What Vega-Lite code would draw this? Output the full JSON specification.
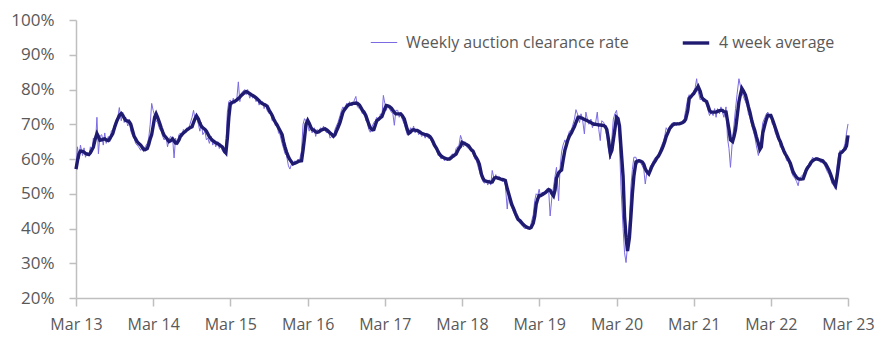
{
"$schema": "https://vega.github.io/schema/vega-lite/v6.json",
"width": 772, "height": 278,
"autosize": {"type": "none"},
"padding": {"left": 76, "top": 20, "right": 35, "bottom": 58},
"background": "white",
"config": {"view": {"stroke": null}, "font": "Open Sans"},
"data": {"values": [
{"d":"2013-03-01","w":57.5,"a":57.1},{"d":"2013-03-08","w":63.5,"a":59.5},{"d":"2013-03-15","w":60.0,"a":61.5},{"d":"2013-03-22","w":64.0,"a":62.3},
{"d":"2013-04-01","w":61.0,"a":62.2},{"d":"2013-04-08","w":63.2,"a":62.0},{"d":"2013-04-15","w":60.5,"a":61.6},{"d":"2013-04-22","w":62.0,"a":61.4},
{"d":"2013-05-01","w":60.8,"a":61.3},{"d":"2013-05-08","w":63.5,"a":61.8},{"d":"2013-05-15","w":62.0,"a":62.6},{"d":"2013-05-22","w":66.0,"a":63.4},
{"d":"2013-06-01","w":64.5,"a":66.0},{"d":"2013-06-08","w":72.0,"a":67.3},{"d":"2013-06-15","w":61.5,"a":66.5},{"d":"2013-06-22","w":66.5,"a":65.4},
{"d":"2013-07-01","w":67.0,"a":65.5},{"d":"2013-07-08","w":64.0,"a":65.7},{"d":"2013-07-15","w":67.5,"a":65.8},{"d":"2013-07-22","w":64.5,"a":65.5},
{"d":"2013-08-01","w":66.5,"a":65.3},{"d":"2013-08-08","w":65.0,"a":65.8},{"d":"2013-08-15","w":68.0,"a":66.6},{"d":"2013-08-22","w":68.5,"a":67.3},
{"d":"2013-09-01","w":70.0,"a":69.4},{"d":"2013-09-08","w":71.5,"a":70.6},{"d":"2013-09-15","w":72.0,"a":71.6},{"d":"2013-09-22","w":74.8,"a":72.5},
{"d":"2013-10-01","w":71.0,"a":73.1},{"d":"2013-10-08","w":73.5,"a":72.6},{"d":"2013-10-15","w":70.5,"a":71.8},{"d":"2013-10-22","w":72.0,"a":71.1},
{"d":"2013-11-01","w":69.5,"a":70.9},{"d":"2013-11-08","w":71.5,"a":70.7},{"d":"2013-11-15","w":68.0,"a":70.0},{"d":"2013-11-22","w":67.0,"a":68.5},
{"d":"2013-12-01","w":66.0,"a":66.5},{"d":"2013-12-08","w":64.5,"a":65.8},{"d":"2013-12-15","w":64.0,"a":65.0},{"d":"2013-12-22","w":63.5,"a":64.5},
{"d":"2014-01-01","w":62.5,"a":64.0},{"d":"2014-01-08","w":63.5,"a":63.4},{"d":"2014-01-15","w":62.0,"a":62.8},{"d":"2014-01-22","w":63.5,"a":62.7},
{"d":"2014-02-01","w":64.5,"a":63.0},{"d":"2014-02-08","w":66.0,"a":64.2},{"d":"2014-02-15","w":70.0,"a":65.8},{"d":"2014-02-22","w":76.0,"a":67.0},
{"d":"2014-03-01","w":74.0,"a":69.5},{"d":"2014-03-08","w":72.5,"a":72.0},{"d":"2014-03-15","w":71.0,"a":73.0},{"d":"2014-03-22","w":70.5,"a":72.0},
{"d":"2014-04-01","w":68.5,"a":70.3},{"d":"2014-04-08","w":68.0,"a":69.0},{"d":"2014-04-15","w":66.5,"a":67.8},{"d":"2014-04-22","w":65.5,"a":66.8},
{"d":"2014-05-01","w":66.5,"a":66.2},{"d":"2014-05-08","w":63.5,"a":65.6},{"d":"2014-05-15","w":65.5,"a":65.0},{"d":"2014-05-22","w":66.5,"a":65.2},
{"d":"2014-06-01","w":66.0,"a":65.8},{"d":"2014-06-08","w":60.3,"a":65.2},{"d":"2014-06-15","w":66.0,"a":64.6},{"d":"2014-06-22","w":64.0,"a":64.6},
{"d":"2014-07-01","w":67.0,"a":65.5},{"d":"2014-07-08","w":67.5,"a":66.5},{"d":"2014-07-15","w":66.5,"a":67.0},{"d":"2014-07-22","w":68.5,"a":67.5},
{"d":"2014-08-01","w":67.5,"a":68.0},{"d":"2014-08-08","w":69.0,"a":68.4},{"d":"2014-08-15","w":68.5,"a":68.7},{"d":"2014-08-22","w":70.0,"a":69.0},
{"d":"2014-09-01","w":72.0,"a":69.3},{"d":"2014-09-08","w":74.0,"a":70.5},{"d":"2014-09-15","w":71.5,"a":71.6},{"d":"2014-09-22","w":72.0,"a":72.4},
{"d":"2014-10-01","w":70.0,"a":71.5},{"d":"2014-10-08","w":68.0,"a":70.3},{"d":"2014-10-15","w":70.5,"a":69.4},{"d":"2014-10-22","w":67.0,"a":69.0},
{"d":"2014-11-01","w":68.0,"a":68.5},{"d":"2014-11-08","w":65.5,"a":68.0},{"d":"2014-11-15","w":66.0,"a":67.2},{"d":"2014-11-22","w":64.5,"a":66.4},
{"d":"2014-12-01","w":66.5,"a":65.7},{"d":"2014-12-08","w":64.0,"a":65.3},{"d":"2014-12-15","w":65.5,"a":65.0},{"d":"2014-12-22","w":63.5,"a":64.7},
{"d":"2015-01-01","w":65.0,"a":64.4},{"d":"2015-01-08","w":63.0,"a":64.1},{"d":"2015-01-15","w":64.0,"a":63.8},{"d":"2015-01-22","w":62.5,"a":63.5},
{"d":"2015-02-01","w":61.5,"a":62.3},{"d":"2015-02-08","w":64.0,"a":61.8},{"d":"2015-02-15","w":73.5,"a":66.0},{"d":"2015-02-22","w":76.5,"a":72.0},
{"d":"2015-03-01","w":77.0,"a":75.9},{"d":"2015-03-08","w":75.5,"a":76.2},{"d":"2015-03-15","w":77.5,"a":76.4},{"d":"2015-03-22","w":76.0,"a":76.6},
{"d":"2015-04-01","w":77.5,"a":77.0},{"d":"2015-04-08","w":82.2,"a":77.4},{"d":"2015-04-15","w":76.5,"a":77.8},{"d":"2015-04-22","w":79.0,"a":78.3},
{"d":"2015-05-01","w":79.5,"a":78.8},{"d":"2015-05-08","w":80.0,"a":79.2},{"d":"2015-05-15","w":78.5,"a":79.4},{"d":"2015-05-22","w":80.0,"a":79.2},
{"d":"2015-06-01","w":77.5,"a":78.8},{"d":"2015-06-08","w":79.0,"a":78.5},{"d":"2015-06-15","w":77.5,"a":78.3},{"d":"2015-06-22","w":78.0,"a":78.0},
{"d":"2015-07-01","w":76.5,"a":77.6},{"d":"2015-07-08","w":77.5,"a":77.2},{"d":"2015-07-15","w":75.5,"a":76.8},{"d":"2015-07-22","w":76.0,"a":76.3},
{"d":"2015-08-01","w":76.5,"a":75.9},{"d":"2015-08-08","w":74.5,"a":75.7},{"d":"2015-08-15","w":76.0,"a":75.5},{"d":"2015-08-22","w":74.0,"a":75.2},
{"d":"2015-09-01","w":73.0,"a":74.0},{"d":"2015-09-08","w":73.5,"a":73.3},{"d":"2015-09-15","w":71.0,"a":72.5},{"d":"2015-09-22","w":71.0,"a":71.5},
{"d":"2015-10-01","w":69.5,"a":70.5},{"d":"2015-10-08","w":70.0,"a":69.8},{"d":"2015-10-15","w":67.5,"a":69.0},{"d":"2015-10-22","w":67.0,"a":68.2},
{"d":"2015-11-01","w":64.5,"a":67.0},{"d":"2015-11-08","w":63.0,"a":65.0},{"d":"2015-11-15","w":61.5,"a":63.4},{"d":"2015-11-22","w":61.0,"a":62.0},
{"d":"2015-12-01","w":58.0,"a":60.6},{"d":"2015-12-08","w":57.1,"a":59.8},{"d":"2015-12-15","w":58.5,"a":59.2},{"d":"2015-12-22","w":58.0,"a":58.6},
{"d":"2016-01-01","w":59.5,"a":58.8},{"d":"2016-01-08","w":59.0,"a":59.0},{"d":"2016-01-15","w":60.0,"a":59.2},{"d":"2016-01-22","w":59.5,"a":59.4},
{"d":"2016-02-01","w":62.4,"a":59.5},{"d":"2016-02-08","w":70.0,"a":62.5},{"d":"2016-02-15","w":71.6,"a":66.0},{"d":"2016-02-22","w":71.0,"a":70.0},
{"d":"2016-03-01","w":70.0,"a":71.1},{"d":"2016-03-08","w":68.0,"a":70.3},{"d":"2016-03-15","w":69.5,"a":69.3},{"d":"2016-03-22","w":67.5,"a":68.5},
{"d":"2016-04-01","w":69.0,"a":68.2},{"d":"2016-04-08","w":66.5,"a":67.8},{"d":"2016-04-15","w":68.5,"a":67.7},{"d":"2016-04-22","w":68.0,"a":67.8},
{"d":"2016-05-01","w":69.0,"a":68.2},{"d":"2016-05-08","w":68.0,"a":68.4},{"d":"2016-05-15","w":69.5,"a":68.6},{"d":"2016-05-22","w":68.0,"a":68.7},
{"d":"2016-06-01","w":67.5,"a":68.3},{"d":"2016-06-08","w":68.0,"a":67.9},{"d":"2016-06-15","w":66.0,"a":67.5},{"d":"2016-06-22","w":66.5,"a":67.1},
{"d":"2016-07-01","w":66.0,"a":66.6},{"d":"2016-07-08","w":68.5,"a":67.0},{"d":"2016-07-15","w":69.5,"a":68.0},{"d":"2016-07-22","w":70.5,"a":69.0},
{"d":"2016-08-01","w":72.5,"a":70.5},{"d":"2016-08-08","w":74.0,"a":72.0},{"d":"2016-08-15","w":75.0,"a":73.5},{"d":"2016-08-22","w":74.0,"a":74.2},
{"d":"2016-09-01","w":76.0,"a":75.0},{"d":"2016-09-08","w":75.0,"a":75.5},{"d":"2016-09-15","w":76.5,"a":75.7},{"d":"2016-09-22","w":75.5,"a":75.8},
{"d":"2016-10-01","w":75.5,"a":76.0},{"d":"2016-10-08","w":77.0,"a":76.0},{"d":"2016-10-15","w":78.0,"a":76.1},{"d":"2016-10-22","w":75.0,"a":76.0},
{"d":"2016-11-01","w":74.5,"a":75.5},{"d":"2016-11-08","w":74.0,"a":74.8},{"d":"2016-11-15","w":73.0,"a":74.0},{"d":"2016-11-22","w":74.0,"a":73.5},
{"d":"2016-12-01","w":71.0,"a":72.5},{"d":"2016-12-08","w":70.5,"a":71.3},{"d":"2016-12-15","w":68.5,"a":70.0},{"d":"2016-12-22","w":67.7,"a":69.0},
{"d":"2017-01-01","w":69.5,"a":68.4},{"d":"2017-01-08","w":70.5,"a":68.5},{"d":"2017-01-15","w":71.0,"a":69.8},{"d":"2017-01-22","w":72.0,"a":71.0},
{"d":"2017-02-01","w":71.0,"a":71.5},{"d":"2017-02-08","w":73.0,"a":71.9},{"d":"2017-02-15","w":72.0,"a":72.2},{"d":"2017-02-22","w":78.3,"a":73.3},
{"d":"2017-03-01","w":76.0,"a":74.5},{"d":"2017-03-08","w":74.0,"a":75.4},{"d":"2017-03-15","w":75.5,"a":75.3},{"d":"2017-03-22","w":74.5,"a":75.1},
{"d":"2017-04-01","w":73.5,"a":74.6},{"d":"2017-04-08","w":73.0,"a":74.0},{"d":"2017-04-15","w":69.7,"a":73.4},{"d":"2017-04-22","w":74.0,"a":73.0},
{"d":"2017-05-01","w":74.0,"a":73.0},{"d":"2017-05-08","w":72.0,"a":73.0},{"d":"2017-05-15","w":73.5,"a":73.0},{"d":"2017-05-22","w":71.5,"a":72.5},
{"d":"2017-06-01","w":70.0,"a":71.5},{"d":"2017-06-08","w":68.5,"a":70.0},{"d":"2017-06-15","w":67.0,"a":68.5},{"d":"2017-06-22","w":67.5,"a":67.4},
{"d":"2017-07-01","w":69.0,"a":67.8},{"d":"2017-07-08","w":68.0,"a":68.3},{"d":"2017-07-15","w":69.5,"a":68.4},{"d":"2017-07-22","w":67.5,"a":68.3},
{"d":"2017-08-01","w":68.5,"a":68.2},{"d":"2017-08-08","w":67.0,"a":68.0},{"d":"2017-08-15","w":68.0,"a":67.7},{"d":"2017-08-22","w":66.5,"a":67.4},
{"d":"2017-09-01","w":67.0,"a":67.2},{"d":"2017-09-08","w":66.0,"a":67.0},{"d":"2017-09-15","w":67.5,"a":66.9},{"d":"2017-09-22","w":66.0,"a":66.8},
{"d":"2017-10-01","w":66.0,"a":66.4},{"d":"2017-10-08","w":65.0,"a":65.8},{"d":"2017-10-15","w":64.0,"a":65.0},{"d":"2017-10-22","w":63.5,"a":64.0},
{"d":"2017-11-01","w":62.5,"a":63.0},{"d":"2017-11-08","w":61.0,"a":62.1},{"d":"2017-11-15","w":61.0,"a":61.4},{"d":"2017-11-22","w":60.0,"a":60.9},
{"d":"2017-12-01","w":60.5,"a":60.5},{"d":"2017-12-08","w":59.5,"a":60.3},{"d":"2017-12-15","w":60.5,"a":60.1},{"d":"2017-12-22","w":59.5,"a":60.0},
{"d":"2018-01-01","w":60.5,"a":60.0},{"d":"2018-01-08","w":61.0,"a":60.3},{"d":"2018-01-15","w":61.5,"a":60.7},{"d":"2018-01-22","w":60.5,"a":61.0},
{"d":"2018-02-01","w":63.0,"a":61.4},{"d":"2018-02-08","w":63.5,"a":62.3},{"d":"2018-02-15","w":64.0,"a":63.1},{"d":"2018-02-22","w":66.8,"a":63.6},
{"d":"2018-03-01","w":65.5,"a":64.8},{"d":"2018-03-08","w":63.5,"a":64.6},{"d":"2018-03-15","w":65.0,"a":64.4},{"d":"2018-03-22","w":63.5,"a":64.2},
{"d":"2018-04-01","w":63.0,"a":63.8},{"d":"2018-04-08","w":62.5,"a":63.2},{"d":"2018-04-15","w":62.5,"a":62.6},{"d":"2018-04-22","w":61.5,"a":62.3},
{"d":"2018-05-01","w":60.0,"a":61.0},{"d":"2018-05-08","w":59.5,"a":60.3},{"d":"2018-05-15","w":58.0,"a":59.6},{"d":"2018-05-22","w":56.5,"a":58.5},
{"d":"2018-06-01","w":54.5,"a":55.6},{"d":"2018-06-08","w":53.5,"a":54.5},{"d":"2018-06-15","w":53.0,"a":53.8},{"d":"2018-06-22","w":54.0,"a":53.6},
{"d":"2018-07-01","w":52.5,"a":53.5},{"d":"2018-07-08","w":54.0,"a":53.4},{"d":"2018-07-15","w":52.5,"a":53.3},{"d":"2018-07-22","w":56.7,"a":53.4},
{"d":"2018-08-01","w":54.0,"a":54.5},{"d":"2018-08-08","w":55.5,"a":54.7},{"d":"2018-08-15","w":54.0,"a":54.6},{"d":"2018-08-22","w":55.0,"a":54.4},
{"d":"2018-09-01","w":54.5,"a":54.2},{"d":"2018-09-08","w":53.5,"a":54.1},{"d":"2018-09-15","w":54.0,"a":54.0},{"d":"2018-09-22","w":52.5,"a":53.8},
{"d":"2018-10-01","w":45.6,"a":51.5},{"d":"2018-10-08","w":50.5,"a":50.0},{"d":"2018-10-15","w":47.0,"a":48.5},{"d":"2018-10-22","w":46.0,"a":47.0},
{"d":"2018-11-01","w":44.5,"a":45.6},{"d":"2018-11-08","w":43.5,"a":44.5},{"d":"2018-11-15","w":42.5,"a":43.5},{"d":"2018-11-22","w":42.0,"a":42.6},
{"d":"2018-12-01","w":41.5,"a":42.2},{"d":"2018-12-08","w":41.0,"a":41.7},{"d":"2018-12-15","w":40.5,"a":41.2},{"d":"2018-12-22","w":40.0,"a":40.8},
{"d":"2019-01-01","w":40.0,"a":40.4},{"d":"2019-01-08","w":40.5,"a":40.2},{"d":"2019-01-15","w":39.8,"a":40.1},{"d":"2019-01-22","w":41.5,"a":40.3},
{"d":"2019-02-01","w":44.0,"a":41.5},{"d":"2019-02-08","w":48.0,"a":43.5},{"d":"2019-02-15","w":50.0,"a":47.0},{"d":"2019-02-22","w":49.5,"a":48.5},
{"d":"2019-03-01","w":51.3,"a":49.5},{"d":"2019-03-08","w":49.0,"a":49.5},{"d":"2019-03-15","w":50.5,"a":49.7},{"d":"2019-03-22","w":50.0,"a":50.0},
{"d":"2019-04-01","w":51.0,"a":50.4},{"d":"2019-04-08","w":51.5,"a":50.8},{"d":"2019-04-15","w":51.0,"a":51.2},{"d":"2019-04-22","w":43.6,"a":51.0},
{"d":"2019-05-01","w":49.5,"a":50.0},{"d":"2019-05-08","w":52.0,"a":49.4},{"d":"2019-05-15","w":55.0,"a":51.0},{"d":"2019-05-22","w":57.6,"a":54.5},
{"d":"2019-06-01","w":48.0,"a":56.0},{"d":"2019-06-08","w":57.5,"a":56.5},{"d":"2019-06-15","w":62.0,"a":56.8},{"d":"2019-06-22","w":64.0,"a":59.5},
{"d":"2019-07-01","w":65.5,"a":62.6},{"d":"2019-07-08","w":64.0,"a":64.0},{"d":"2019-07-15","w":66.5,"a":65.5},{"d":"2019-07-22","w":68.0,"a":66.6},
{"d":"2019-08-01","w":68.5,"a":67.6},{"d":"2019-08-08","w":70.0,"a":68.5},{"d":"2019-08-15","w":71.5,"a":69.3},{"d":"2019-08-22","w":74.2,"a":70.5},
{"d":"2019-09-01","w":72.5,"a":72.0},{"d":"2019-09-08","w":70.5,"a":72.0},{"d":"2019-09-15","w":73.0,"a":71.8},{"d":"2019-09-22","w":71.5,"a":71.7},
{"d":"2019-10-01","w":67.2,"a":71.4},{"d":"2019-10-08","w":73.5,"a":71.2},{"d":"2019-10-15","w":71.5,"a":71.0},{"d":"2019-10-22","w":70.0,"a":70.8},
{"d":"2019-11-01","w":71.5,"a":70.5},{"d":"2019-11-08","w":69.0,"a":70.2},{"d":"2019-11-15","w":70.5,"a":70.0},{"d":"2019-11-22","w":70.0,"a":70.0},
{"d":"2019-12-01","w":73.5,"a":69.9},{"d":"2019-12-08","w":68.5,"a":69.8},{"d":"2019-12-15","w":65.3,"a":69.8},{"d":"2019-12-22","w":71.0,"a":69.7},
{"d":"2020-01-01","w":70.5,"a":69.6},{"d":"2020-01-08","w":69.0,"a":69.3},{"d":"2020-01-15","w":66.5,"a":68.5},{"d":"2020-01-22","w":63.0,"a":66.0},
{"d":"2020-02-01","w":60.0,"a":61.5},{"d":"2020-02-08","w":66.0,"a":62.5},{"d":"2020-02-15","w":71.5,"a":65.5},{"d":"2020-02-22","w":73.0,"a":68.5},
{"d":"2020-03-01","w":74.0,"a":72.0},{"d":"2020-03-08","w":71.0,"a":71.6},{"d":"2020-03-15","w":64.0,"a":69.5},{"d":"2020-03-22","w":52.0,"a":63.5},
{"d":"2020-04-01","w":40.0,"a":55.0},{"d":"2020-04-08","w":33.0,"a":43.5},{"d":"2020-04-15","w":30.2,"a":37.5},{"d":"2020-04-22","w":35.0,"a":33.5},
{"d":"2020-05-01","w":42.5,"a":37.4},{"d":"2020-05-08","w":52.0,"a":43.5},{"d":"2020-05-15","w":57.0,"a":50.0},{"d":"2020-05-22","w":60.5,"a":55.0},
{"d":"2020-06-01","w":60.5,"a":59.2},{"d":"2020-06-08","w":58.5,"a":59.4},{"d":"2020-06-15","w":60.0,"a":59.5},{"d":"2020-06-22","w":59.0,"a":59.4},
{"d":"2020-07-01","w":58.0,"a":59.1},{"d":"2020-07-08","w":57.0,"a":58.5},{"d":"2020-07-15","w":52.8,"a":57.2},{"d":"2020-07-22","w":56.0,"a":56.4},
{"d":"2020-08-01","w":56.5,"a":55.7},{"d":"2020-08-08","w":58.0,"a":56.7},{"d":"2020-08-15","w":58.5,"a":57.8},{"d":"2020-08-22","w":59.5,"a":58.6},
{"d":"2020-09-01","w":60.5,"a":59.5},{"d":"2020-09-08","w":60.0,"a":60.3},{"d":"2020-09-15","w":61.5,"a":60.8},{"d":"2020-09-22","w":62.5,"a":61.6},
{"d":"2020-10-01","w":64.0,"a":62.7},{"d":"2020-10-08","w":65.0,"a":63.8},{"d":"2020-10-15","w":66.5,"a":65.0},{"d":"2020-10-22","w":69.0,"a":66.5},
{"d":"2020-11-01","w":68.0,"a":67.8},{"d":"2020-11-08","w":69.5,"a":68.8},{"d":"2020-11-15","w":70.0,"a":69.3},{"d":"2020-11-22","w":70.5,"a":69.8},
{"d":"2020-12-01","w":70.5,"a":70.1},{"d":"2020-12-08","w":69.5,"a":70.1},{"d":"2020-12-15","w":70.5,"a":70.1},{"d":"2020-12-22","w":70.0,"a":70.1},
{"d":"2021-01-01","w":70.5,"a":70.3},{"d":"2021-01-08","w":71.0,"a":70.5},{"d":"2021-01-15","w":71.5,"a":70.8},{"d":"2021-01-22","w":74.0,"a":71.4},
{"d":"2021-02-01","w":77.5,"a":74.0},{"d":"2021-02-08","w":78.5,"a":77.4},{"d":"2021-02-15","w":78.0,"a":77.9},{"d":"2021-02-22","w":79.0,"a":78.4},
{"d":"2021-03-01","w":79.5,"a":78.8},{"d":"2021-03-08","w":80.5,"a":79.5},{"d":"2021-03-15","w":83.1,"a":80.2},{"d":"2021-03-22","w":79.5,"a":80.9},
{"d":"2021-04-01","w":77.0,"a":79.5},{"d":"2021-04-08","w":77.5,"a":77.8},{"d":"2021-04-15","w":76.5,"a":77.2},{"d":"2021-04-22","w":77.5,"a":76.9},
{"d":"2021-05-01","w":75.5,"a":76.5},{"d":"2021-05-08","w":74.0,"a":75.3},{"d":"2021-05-15","w":72.5,"a":74.0},{"d":"2021-05-22","w":73.5,"a":73.5},
{"d":"2021-06-01","w":72.5,"a":73.5},{"d":"2021-06-08","w":74.5,"a":73.5},{"d":"2021-06-15","w":72.0,"a":73.5},{"d":"2021-06-22","w":74.5,"a":73.7},
{"d":"2021-07-01","w":73.0,"a":73.9},{"d":"2021-07-08","w":75.0,"a":74.0},{"d":"2021-07-15","w":73.5,"a":74.0},{"d":"2021-07-22","w":72.0,"a":73.6},
{"d":"2021-08-01","w":75.0,"a":73.5},{"d":"2021-08-08","w":66.0,"a":71.0},{"d":"2021-08-15","w":63.0,"a":68.5},{"d":"2021-08-22","w":57.6,"a":65.5},
{"d":"2021-09-01","w":66.0,"a":65.0},{"d":"2021-09-08","w":70.0,"a":66.5},{"d":"2021-09-15","w":74.5,"a":68.5},{"d":"2021-09-22","w":78.5,"a":72.0},
{"d":"2021-10-01","w":83.1,"a":76.5},{"d":"2021-10-08","w":81.0,"a":78.5},{"d":"2021-10-15","w":79.0,"a":80.3},{"d":"2021-10-22","w":78.0,"a":79.6},
{"d":"2021-11-01","w":76.5,"a":78.4},{"d":"2021-11-08","w":75.5,"a":76.8},{"d":"2021-11-15","w":73.0,"a":75.0},{"d":"2021-11-22","w":72.0,"a":73.5},
{"d":"2021-12-01","w":69.5,"a":71.0},{"d":"2021-12-08","w":68.0,"a":69.5},{"d":"2021-12-15","w":66.5,"a":68.2},{"d":"2021-12-22","w":64.0,"a":66.5},
{"d":"2022-01-01","w":61.0,"a":64.5},{"d":"2022-01-08","w":63.5,"a":62.8},{"d":"2022-01-15","w":67.0,"a":63.5},{"d":"2022-01-22","w":70.5,"a":67.5},
{"d":"2022-02-01","w":72.0,"a":70.0},{"d":"2022-02-08","w":73.0,"a":71.5},{"d":"2022-02-15","w":73.5,"a":72.6},{"d":"2022-02-22","w":72.0,"a":72.5},
{"d":"2022-03-01","w":72.0,"a":72.5},{"d":"2022-03-08","w":70.0,"a":71.5},{"d":"2022-03-15","w":69.5,"a":70.3},{"d":"2022-03-22","w":67.5,"a":69.0},
{"d":"2022-04-01","w":66.0,"a":67.2},{"d":"2022-04-08","w":65.5,"a":65.8},{"d":"2022-04-15","w":63.5,"a":65.0},{"d":"2022-04-22","w":63.0,"a":63.8},
{"d":"2022-05-01","w":61.5,"a":62.4},{"d":"2022-05-08","w":61.0,"a":61.5},{"d":"2022-05-15","w":59.5,"a":60.8},{"d":"2022-05-22","w":59.5,"a":60.0},
{"d":"2022-06-01","w":57.5,"a":58.8},{"d":"2022-06-08","w":56.0,"a":57.5},{"d":"2022-06-15","w":55.0,"a":56.2},{"d":"2022-06-22","w":54.5,"a":55.5},
{"d":"2022-07-01","w":53.5,"a":54.7},{"d":"2022-07-08","w":52.3,"a":54.3},{"d":"2022-07-15","w":54.5,"a":54.2},{"d":"2022-07-22","w":55.0,"a":54.2},
{"d":"2022-08-01","w":55.5,"a":54.3},{"d":"2022-08-08","w":56.5,"a":55.5},{"d":"2022-08-15","w":57.5,"a":56.7},{"d":"2022-08-22","w":58.0,"a":57.5},
{"d":"2022-09-01","w":59.0,"a":58.3},{"d":"2022-09-08","w":59.5,"a":59.1},{"d":"2022-09-15","w":60.5,"a":59.5},{"d":"2022-09-22","w":59.5,"a":59.8},
{"d":"2022-10-01","w":60.5,"a":60.0},{"d":"2022-10-08","w":59.5,"a":60.0},{"d":"2022-10-15","w":60.0,"a":59.8},{"d":"2022-10-22","w":59.0,"a":59.7},
{"d":"2022-11-01","w":59.0,"a":59.5},{"d":"2022-11-08","w":58.5,"a":59.0},{"d":"2022-11-15","w":57.5,"a":58.6},{"d":"2022-11-22","w":56.5,"a":57.8},
{"d":"2022-12-01","w":55.5,"a":56.8},{"d":"2022-12-08","w":54.5,"a":55.7},{"d":"2022-12-15","w":53.0,"a":54.5},{"d":"2022-12-22","w":52.5,"a":53.3},
{"d":"2023-01-01","w":51.3,"a":52.3},{"d":"2023-01-08","w":58.0,"a":55.0},{"d":"2023-01-15","w":61.0,"a":58.0},{"d":"2023-01-22","w":62.5,"a":61.5},
{"d":"2023-02-01","w":62.0,"a":62.0},{"d":"2023-02-08","w":63.0,"a":62.5},{"d":"2023-02-15","w":64.5,"a":62.9},{"d":"2023-02-22","w":67.5,"a":63.8},
{"d":"2023-03-01","w":70.1,"a":66.8}
]},
"transform": [{"fold": ["w", "a"], "as": ["k", "v"]}],
"mark": {"type": "line", "interpolate": "linear"},
"encoding": {
  "x": {"field": "d", "type": "temporal",
    "scale": {"type": "utc", "domain": [{"year": 2013, "month": 3, "date": 1, "utc": true}, {"year": 2023, "month": 3, "date": 1, "utc": true}]},
    "axis": {"title": null, "grid": false,
      "labelExpr": "utcFormat(datum.value, '%b %y')",
      "values": [{"year": 2013, "month": 3, "date": 1, "utc": true}, {"year": 2014, "month": 3, "date": 1, "utc": true}, {"year": 2015, "month": 3, "date": 1, "utc": true}, {"year": 2016, "month": 3, "date": 1, "utc": true}, {"year": 2017, "month": 3, "date": 1, "utc": true}, {"year": 2018, "month": 3, "date": 1, "utc": true}, {"year": 2019, "month": 3, "date": 1, "utc": true}, {"year": 2020, "month": 3, "date": 1, "utc": true}, {"year": 2021, "month": 3, "date": 1, "utc": true}, {"year": 2022, "month": 3, "date": 1, "utc": true}, {"year": 2023, "month": 3, "date": 1, "utc": true}],
      "domainColor": "#BFBFBF", "domainWidth": 1.5, "tickColor": "#BFBFBF", "tickWidth": 1.5, "tickSize": 8,
      "labelFontSize": 16, "labelColor": "#595959", "labelPadding": 10, "labelFlush": false, "labelFont": "Open Sans"}},
  "y": {"field": "v", "type": "quantitative",
    "scale": {"domain": [20, 100], "nice": false, "zero": false},
    "axis": {"title": null, "grid": false, "values": [20, 30, 40, 50, 60, 70, 80, 90, 100],
      "labelExpr": "datum.value + '%'",
      "domainColor": "#BFBFBF", "domainWidth": 1.5, "tickColor": "#BFBFBF", "tickWidth": 1.5, "tickSize": 7,
      "labelFontSize": 17, "labelColor": "#595959", "labelPadding": 15, "labelFont": "Open Sans"}},
  "color": {"field": "k", "type": "nominal",
    "scale": {"domain": ["w", "a"], "range": ["#7A6BE3", "#1F1B70"]},
    "legend": {"orient": "none", "legendX": 294, "legendY": 8, "direction": "horizontal", "title": null,
      "labelExpr": "datum.value == 'w' ? 'Weekly auction clearance rate' : '4 week average'",
      "labelFontSize": 16, "labelColor": "#595959", "labelFont": "Open Sans", "labelLimit": 400,
      "symbolType": "stroke", "symbolSize": 700, "labelOffset": 8, "columnPadding": 46, "padding": 0}},
  "strokeWidth": {"field": "k", "type": "nominal",
    "scale": {"domain": ["w", "a"], "range": [1, 3.4]},
    "legend": {"orient": "none", "legendX": 294, "legendY": 8, "direction": "horizontal", "title": null,
      "labelExpr": "datum.value == 'w' ? 'Weekly auction clearance rate' : '4 week average'",
      "labelFontSize": 16, "labelColor": "#595959", "labelFont": "Open Sans", "labelLimit": 400,
      "symbolType": "stroke", "symbolSize": 700, "labelOffset": 8, "columnPadding": 46, "padding": 0}}
}
}
